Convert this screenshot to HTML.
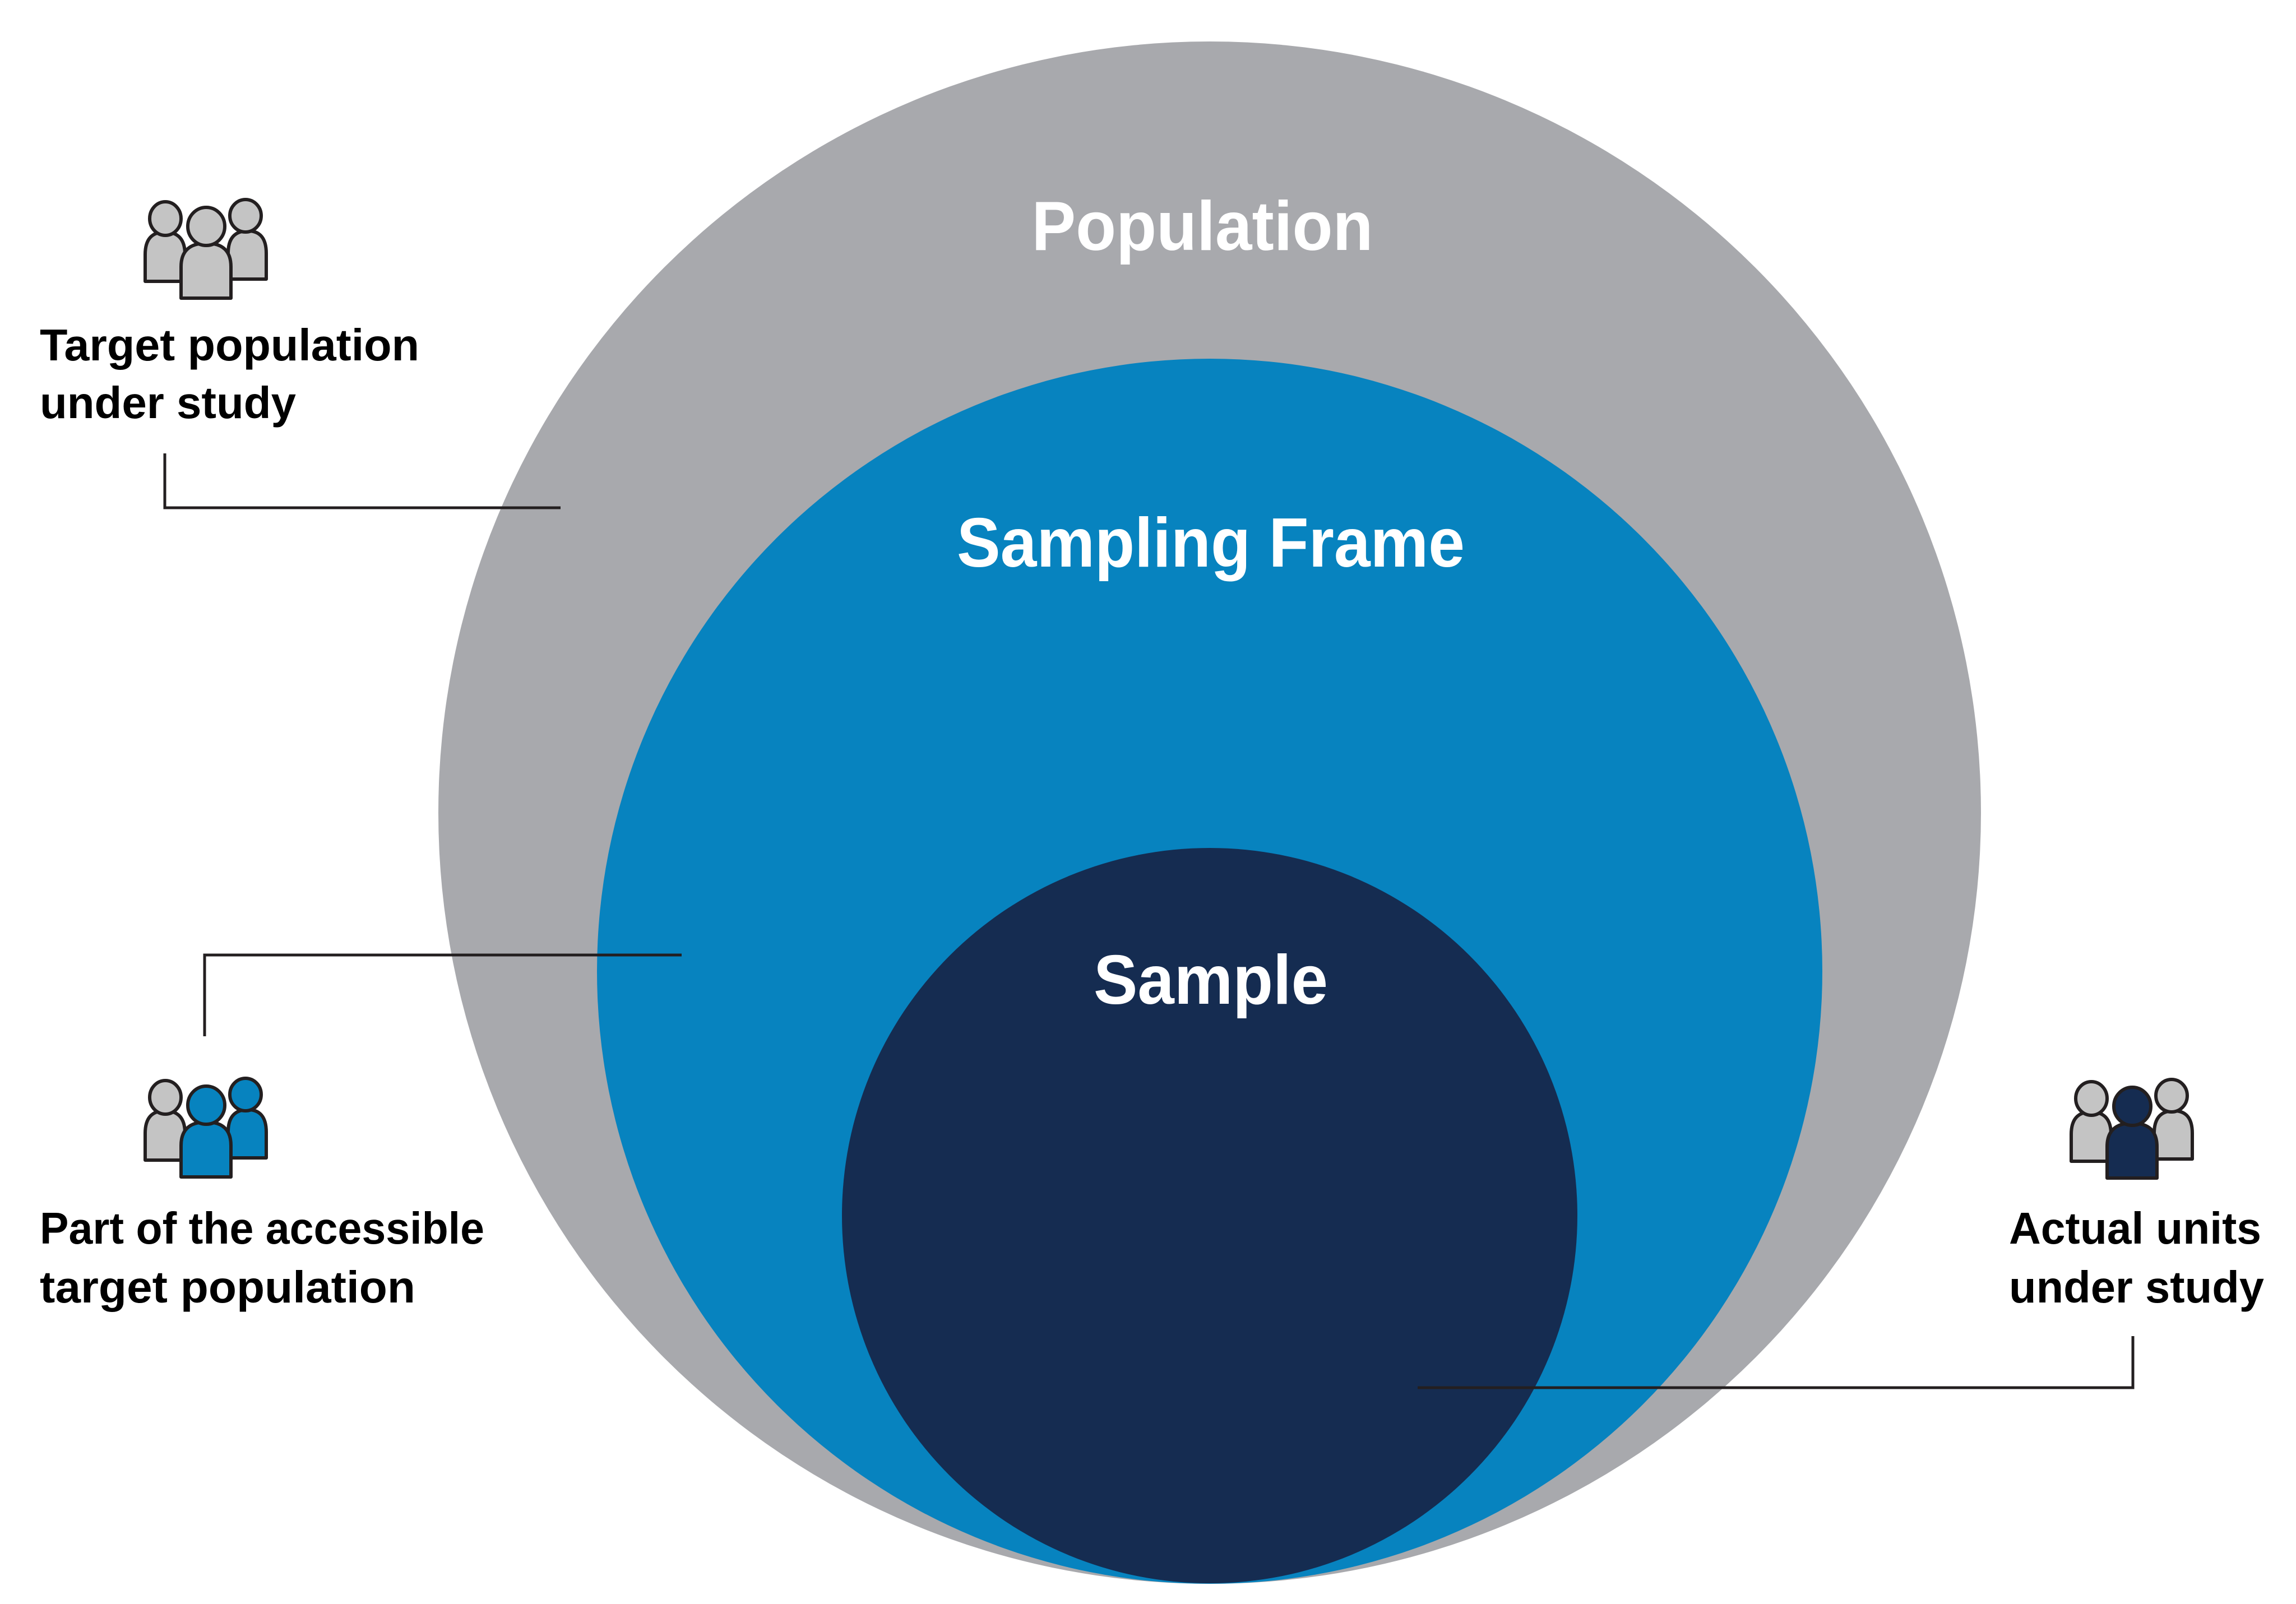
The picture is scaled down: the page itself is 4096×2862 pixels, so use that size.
<!DOCTYPE html>
<html><head><meta charset="utf-8"><style>html,body{margin:0;padding:0;background:#fff}svg{display:block}</style></head>
<body>
<svg width="4096" height="2862" viewBox="0 0 4096 2862" xmlns="http://www.w3.org/2000/svg">
<defs>
<g id="p">
<path d="M0,0"/>
</g>
</defs>
<rect width="4096" height="2862" fill="#fff"/>
<circle cx="2158" cy="1450" r="1376" fill="#a8a9ad"/>
<circle cx="2158" cy="1733" r="1093" fill="#0783bf"/>
<circle cx="2158" cy="2169" r="656" fill="#152c51"/>

<g font-family="Liberation Sans, sans-serif" font-weight="bold" fill="#fff" text-anchor="middle">
<text x="2145" y="446" font-size="124" textLength="609" lengthAdjust="spacingAndGlyphs">Population</text>
<text x="2160" y="1011" font-size="124" textLength="906" lengthAdjust="spacingAndGlyphs">Sampling Frame</text>
<text x="2160" y="1791" font-size="124" textLength="418" lengthAdjust="spacingAndGlyphs">Sample</text>
</g>

<g stroke="#231f20" stroke-width="5" fill="none">
<polyline points="294,809 294,906 1000,906"/>
<polyline points="1216,1704 365,1704 365,1849"/>
<polyline points="2529,2476 3805,2476 3805,2384"/>
</g>

<g font-family="Liberation Sans, sans-serif" font-weight="bold" fill="#000" font-size="80">
<text x="71" y="643" textLength="677" lengthAdjust="spacingAndGlyphs">Target population</text>
<text x="71" y="746" textLength="457" lengthAdjust="spacingAndGlyphs">under study</text>
<text x="71" y="2219" textLength="793" lengthAdjust="spacingAndGlyphs">Part of the accessible</text>
<text x="71" y="2324" textLength="670" lengthAdjust="spacingAndGlyphs">target population</text>
<text x="3584" y="2219" textLength="450" lengthAdjust="spacingAndGlyphs">Actual units</text>
<text x="3584" y="2324" textLength="455" lengthAdjust="spacingAndGlyphs">under study</text>
</g>

<!-- icon 1 -->
<g transform="translate(256,354)" stroke="#231f20" stroke-width="6" stroke-linejoin="round">
<path d="M3,148 L3,100 Q3,60 38,60 Q74,60 74,100 L74,148 Z" fill="#c4c4c4"/>
<ellipse cx="39" cy="36" rx="28" ry="30" fill="#c4c4c4"/>
<path d="M151,144 L151,98 Q151,58 186,58 Q219,58 219,98 L219,144 Z" fill="#c4c4c4"/>
<ellipse cx="182" cy="31" rx="28" ry="29" fill="#c4c4c4"/>
<path d="M67,178 L67,122 Q67,80 112,80 Q156,80 156,122 L156,178 Z" fill="#c4c4c4"/>
<ellipse cx="112" cy="50" rx="33" ry="34" fill="#c4c4c4"/>
</g>
<!-- icon 2 -->
<g transform="translate(256,1922)" stroke="#231f20" stroke-width="6" stroke-linejoin="round">
<path d="M3,148 L3,100 Q3,60 38,60 Q74,60 74,100 L74,148 Z" fill="#c4c4c4"/>
<ellipse cx="39" cy="36" rx="28" ry="30" fill="#c4c4c4"/>
<path d="M151,144 L151,98 Q151,58 186,58 Q219,58 219,98 L219,144 Z" fill="#0783bf"/>
<ellipse cx="182" cy="31" rx="28" ry="29" fill="#0783bf"/>
<path d="M67,178 L67,122 Q67,80 112,80 Q156,80 156,122 L156,178 Z" fill="#0783bf"/>
<ellipse cx="112" cy="50" rx="33" ry="34" fill="#0783bf"/>
</g>
<!-- icon 3 -->
<g transform="translate(3692,1924)" stroke="#231f20" stroke-width="6" stroke-linejoin="round">
<path d="M3,148 L3,100 Q3,60 38,60 Q74,60 74,100 L74,148 Z" fill="#c4c4c4"/>
<ellipse cx="39" cy="36" rx="28" ry="30" fill="#c4c4c4"/>
<path d="M151,144 L151,98 Q151,58 186,58 Q219,58 219,98 L219,144 Z" fill="#c4c4c4"/>
<ellipse cx="182" cy="31" rx="28" ry="29" fill="#c4c4c4"/>
<path d="M67,178 L67,122 Q67,80 112,80 Q156,80 156,122 L156,178 Z" fill="#152c51"/>
<ellipse cx="112" cy="50" rx="33" ry="34" fill="#152c51"/>
</g>
</svg>
</body></html>
